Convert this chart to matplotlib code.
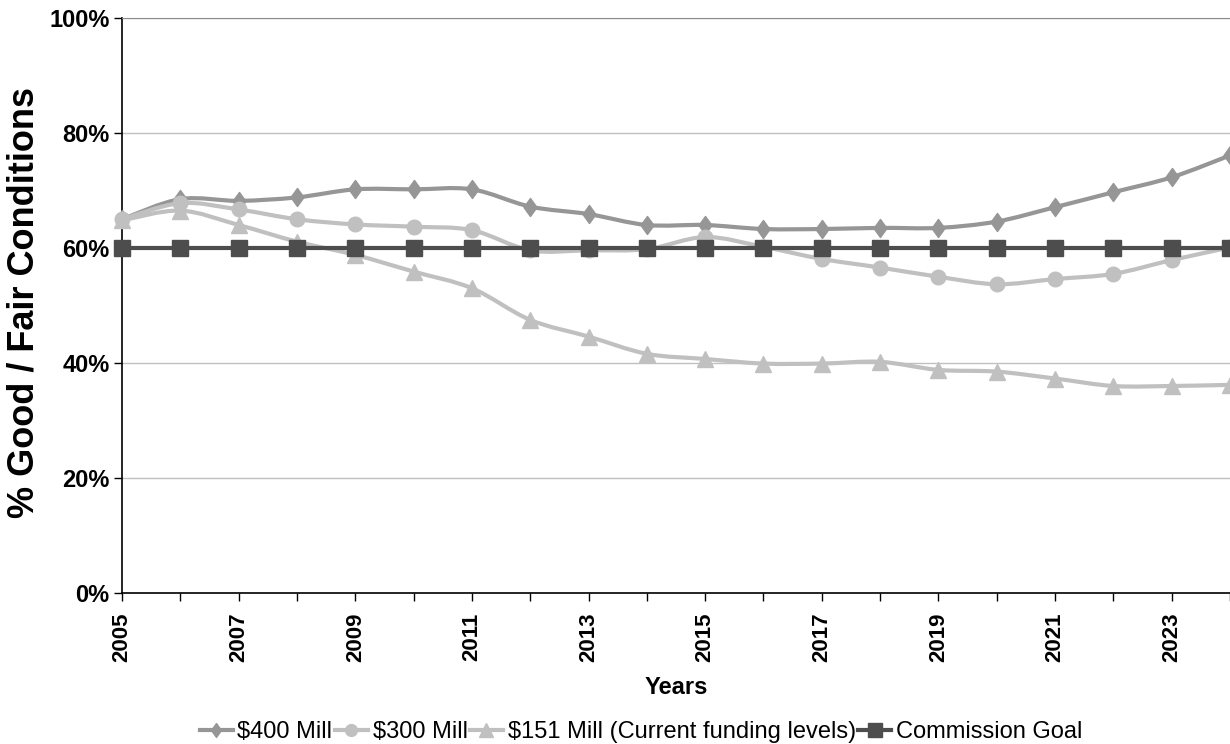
import numpy as np
import matplotlib.pyplot as plt
from matplotlib.path import Path
from matplotlib.patches import PathPatch
from matplotlib.lines import Line2D

plt.rcParams['font.family'] = ['Liberation Sans', 'DejaVu Sans']

# datos (porcentaje en buen/regular estado)
years = list(range(2005, 2025))
mill_400 = [65.0, 68.5, 68.2, 68.8, 70.2, 70.2, 70.2, 67.2, 65.9, 64.0,
            64.0, 63.3, 63.3, 63.5, 63.5, 64.6, 67.1, 69.7, 72.3, 76.1]
mill_300 = [65.0, 67.8, 66.7, 65.0, 64.1, 63.7, 63.1, 59.6, 59.6, 59.8,
            61.9, 60.2, 58.1, 56.6, 55.0, 53.7, 54.6, 55.5, 57.9, 60.1]
mill_151 = [64.8, 66.5, 64.0, 61.1, 58.8, 55.9, 53.0, 47.5, 44.6, 41.6,
            40.7, 39.9, 39.9, 40.2, 38.8, 38.5, 37.3, 36.0, 36.0, 36.2]
goal = [60.0] * len(years)

labels = ['$400 Mill', '$300 Mill', '$151 Mill (Current funding levels)',
          'Commission Goal']
yticks = [0, 20, 40, 60, 80, 100]
xlabels_years = list(range(2005, 2025, 2))

c400 = '#969696'
c300 = '#c0c0c0'
c151 = '#c0c0c0'
cgoal = '#4d4d4d'

# rombo alto como el de Excel
diamond = Path([(0, 1), (0.72, 0), (0, -1), (-0.72, 0), (0, 1)],
               [Path.MOVETO, Path.LINETO, Path.LINETO, Path.LINETO, Path.CLOSEPOLY])


def curva_suave(ax, x, y, color, lw):
    # Catmull-Rom convertido a tramos Bezier cubicos
    x = np.asarray(x, float)
    y = np.asarray(y, float)
    n = len(x)
    verts = [(x[0], y[0])]
    codes = [Path.MOVETO]
    for i in range(n - 1):
        x0, y0 = (x[i - 1], y[i - 1]) if i > 0 else (x[i], y[i])
        x3, y3 = (x[i + 2], y[i + 2]) if i + 2 < n else (x[i + 1], y[i + 1])
        c1 = (x[i] + (x[i + 1] - x0) / 6, y[i] + (y[i + 1] - y0) / 6)
        c2 = (x[i + 1] - (x3 - x[i]) / 6, y[i + 1] - (y3 - y[i]) / 6)
        verts += [c1, c2, (x[i + 1], y[i + 1])]
        codes += [Path.CURVE4] * 3
    ax.add_patch(PathPatch(Path(verts, codes), fill=False, edgecolor=color,
                           lw=lw, capstyle='round', joinstyle='round',
                           clip_on=False, zorder=3))


fig = plt.figure(figsize=(12.3, 7.44), dpi=100)
ax = fig.add_axes([122 / 1230, 1 - 593 / 744, 1 - 122 / 1230, (593 - 18) / 744])

series = [(mill_400, c400, diamond, 13),
          (mill_300, c300, 'o', 10.5),
          (mill_151, c151, '^', 12)]
for vals, col, mk, ms in series:
    curva_suave(ax, years, vals, col, 3)
    ax.plot(years, vals, ls='none', marker=mk, ms=ms, color=col,
            mec=col, clip_on=False, zorder=4)

ax.plot(years, goal, color=cgoal, lw=3, marker='s', ms=11.5,
        clip_on=False, zorder=5)

ax.set_xlim(2005, 2024)
ax.set_ylim(0, 100)

ax.set_yticks(yticks)
ax.set_yticklabels([f'{v}%' for v in yticks], fontsize=17, fontweight='bold')
ax.set_xticks(years)
ax.set_xticklabels([str(a) if a in xlabels_years else '' for a in years],
                   rotation=90, fontsize=16, fontweight='bold')
ax.tick_params(axis='both', direction='out', length=6, width=1, colors='black')
ax.tick_params(axis='x', pad=8)
ax.tick_params(axis='y', pad=3)

ax.grid(axis='y', color='#c0c0c0', lw=1)
ax.set_axisbelow(True)
ax.spines['right'].set_visible(False)
ax.spines['top'].set_color('#8c8c8c')
ax.spines['left'].set_linewidth(1.2)
ax.spines['bottom'].set_linewidth(1.2)

fig.text(24 / 1230, 1 - 302 / 744, '% Good / Fair Conditions', rotation=90,
         ha='center', va='center', fontsize=26, fontweight='bold')
ax.set_xlabel('Years', fontsize=17, fontweight='bold', labelpad=10)

handles = [
    Line2D([], [], color=c400, lw=3, marker=diamond, ms=10),
    Line2D([], [], color=c300, lw=3, marker='o', ms=8.5),
    Line2D([], [], color=c151, lw=3, marker='^', ms=9.5),
    Line2D([], [], color=cgoal, lw=3, marker='s', ms=9.5),
]
fig.legend(handles, labels, loc='center', bbox_to_anchor=(641 / 1230, 1 - 732 / 744),
           ncol=4, frameon=False, fontsize=17, handlelength=1.4,
           handletextpad=0.2, columnspacing=0.1, borderpad=0)

fig.savefig('out.png', dpi=100)
